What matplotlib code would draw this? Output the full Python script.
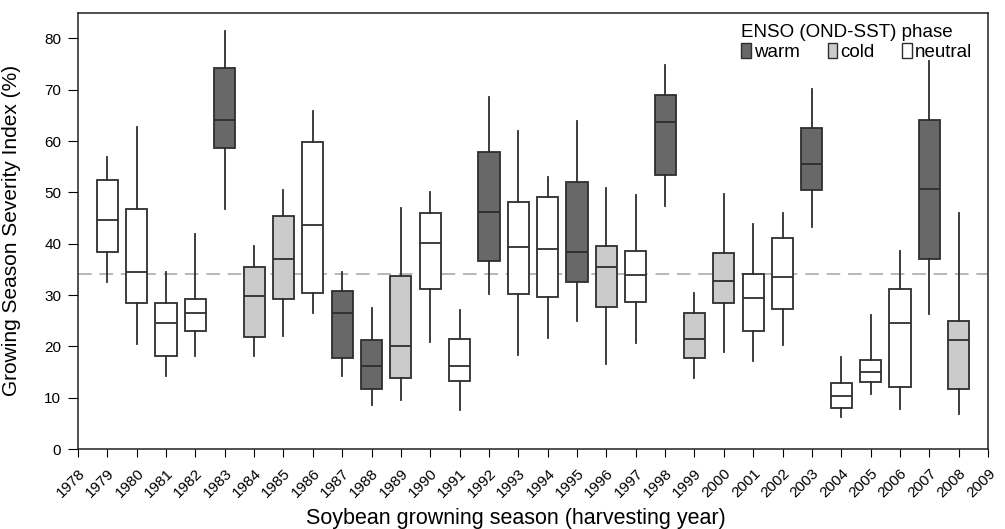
import matplotlib.pyplot as plt
from matplotlib.patches import Patch

plt.rcParams['font.family'] = ['Liberation Sans', 'DejaVu Sans']

# growing season (harvesting year) and ENSO phase of each box
years = list(range(1979, 2009))
phase = ['n', 'n', 'n', 'n', 'w', 'c', 'c', 'n', 'w', 'w',
         'c', 'n', 'n', 'w', 'n', 'n', 'w', 'c', 'n', 'w',
         'c', 'c', 'n', 'n', 'w', 'n', 'n', 'n', 'w', 'c']

# box statistics (%)
whislo = [32.6, 20.4, 14.2, 18.1, 46.8, 18.1, 22.0, 26.5, 14.2, 8.5,
          9.6, 20.9, 7.6, 30.3, 18.3, 21.6, 25.0, 16.6, 20.7, 47.4,
          13.9, 19.0, 17.2, 20.3, 43.3, 6.2, 10.7, 7.9, 26.3, 6.8]
q1 = [38.4, 28.4, 18.1, 23.1, 58.6, 21.8, 29.2, 30.4, 17.8, 11.8,
      13.8, 31.2, 13.3, 36.6, 30.3, 29.7, 32.6, 27.7, 28.7, 53.4,
      17.7, 28.4, 23.0, 27.2, 50.4, 8.0, 13.0, 12.1, 37.0, 11.8]
med = [44.6, 34.4, 24.6, 26.6, 64.1, 29.8, 37.0, 43.7, 26.6, 16.2,
       20.0, 40.2, 16.2, 46.2, 39.4, 39.0, 38.4, 35.4, 34.0, 63.8,
       21.5, 32.7, 29.4, 33.5, 55.6, 10.3, 15.1, 24.6, 50.7, 21.2]
q3 = [52.4, 46.7, 28.4, 29.2, 74.3, 35.5, 45.4, 59.9, 30.7, 21.2,
      33.8, 45.9, 21.5, 57.9, 48.2, 49.2, 52.1, 39.6, 38.5, 69.0,
      26.5, 38.1, 34.1, 41.2, 62.6, 12.8, 17.3, 31.2, 64.1, 25.0]
whishi = [56.9, 62.7, 34.5, 41.9, 81.5, 39.6, 50.5, 65.9, 34.4, 27.4,
          47.0, 50.0, 27.1, 68.6, 61.9, 53.0, 63.9, 50.8, 49.4, 74.9,
          30.5, 49.6, 43.9, 45.9, 70.1, 17.9, 26.1, 38.5, 75.5, 45.9]
mean_line = 34.1

colors = {'w': '#686868', 'c': '#cbcbcb', 'n': 'white'}
edge = '#2e2e2e'

stats = []
for i in range(len(years)):
    stats.append({'whislo': whislo[i], 'q1': q1[i], 'med': med[i],
                  'q3': q3[i], 'whishi': whishi[i], 'fliers': []})

fig = plt.figure(figsize=(10.05, 5.29), dpi=100)
ax = fig.add_axes([0.0776, 0.151, 0.9055, 0.825])

ax.axhline(mean_line, color='#b8b8b8', ls=(0, (7, 4)), lw=1.4, zorder=0)

bp = ax.bxp(stats, positions=years, widths=0.72, patch_artist=True,
            showcaps=False, manage_ticks=False,
            boxprops=dict(edgecolor=edge, linewidth=1.3),
            whiskerprops=dict(color=edge, linewidth=1.3),
            medianprops=dict(color=edge, linewidth=1.3))
for box, p in zip(bp['boxes'], phase):
    box.set_facecolor(colors[p])

ax.set_xlim(1978, 2009)
ax.set_ylim(0, 85)
ax.set_xticks(range(1978, 2010))
ax.set_xticklabels([str(y) for y in range(1978, 2010)], rotation=45,
                   ha='right', rotation_mode='anchor', fontsize=11)
ax.set_yticks(range(0, 90, 10))
ax.tick_params(axis='y', labelsize=11, direction='out', length=7, pad=5)
ax.tick_params(axis='x', direction='out', length=6, pad=6)
for s in ax.spines.values():
    s.set_color('#222222')
    s.set_linewidth(1.1)

ax.set_xlabel('Soybean growning season (harvesting year)', fontsize=15.5)
ax.xaxis.set_label_coords(0.481, -0.135)
ax.set_ylabel('Growing Season Severity Index (%)', fontsize=15)
ax.yaxis.set_label_coords(-0.063, 0.5)

handles = [Patch(facecolor=colors[k], edgecolor=edge) for k in ['w', 'c', 'n']]
leg = ax.legend(handles, ['warm', 'cold', 'neutral'], ncol=3, frameon=False,
                title='ENSO (OND-SST) phase', title_fontsize=13.5, fontsize=13.5,
                loc='upper left', bbox_to_anchor=(0.729, 0.975),
                handlelength=0.5, handleheight=0.8, handletextpad=0.15,
                columnspacing=1.5, borderaxespad=0, borderpad=0)
leg._legend_box.align = 'left'
leg._legend_box.sep = 2

fig.savefig('out.png', dpi=100)
